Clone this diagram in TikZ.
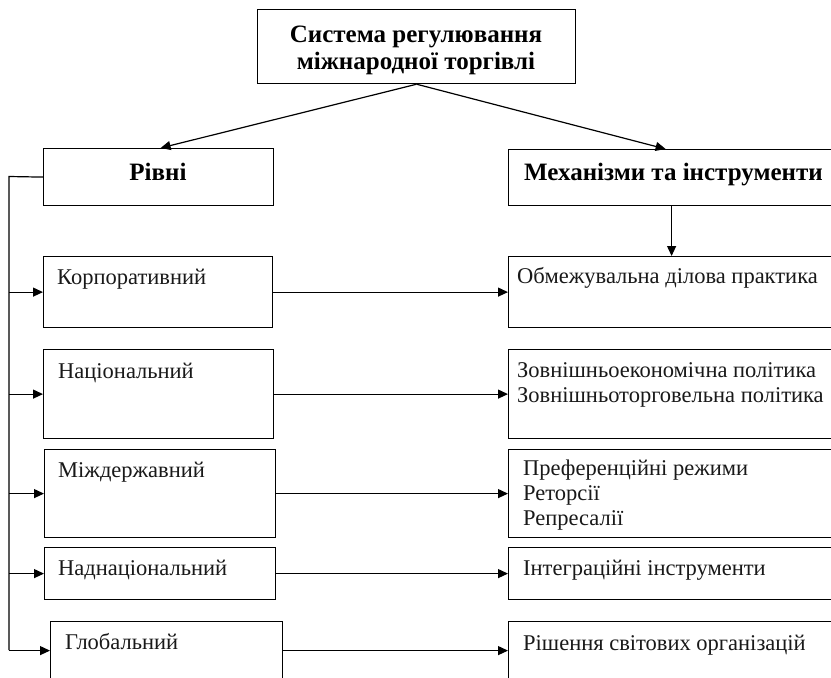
\documentclass[tikz,border=0pt]{standalone}
\usepackage{fontspec}
\setmainfont{Liberation Serif}
\usetikzlibrary{arrows.meta}
\begin{document}
\begin{tikzpicture}[x=1pt,y=-1pt,
  box/.style={draw=black, line width=1.2pt, rectangle, inner sep=0pt, anchor=north west},
  txt/.style={inner sep=0pt, anchor=base west, font=\fontsize{22.5}{25}\selectfont, text=black!90},
  head/.style={inner sep=0pt, font=\fontsize{25}{27}\selectfont\bfseries, text=black},
  link/.style={line width=1.2pt},
  arr/.style={link, -{Triangle[length=10pt,width=9pt]}}]
\useasboundingbox (0,0) rectangle (831,678);
\clip (0,0) rectangle (831,678);
\fill[white] (0,0) rectangle (831,678);

% heading boxes (multi-line texts are placed by the baseline of their last line)
\node[box, minimum width=318pt, minimum height=74pt] (title) at (257,9) {};
\node[head, align=center, anchor=base] (titleT) at (416,69) {Система регулювання\\міжнародної торгівлі};
\node[box, minimum width=230pt, minimum height=57pt] (rivni) at (43,148) {};
\node[head, anchor=base] (rivniT) at (158,180) {Рівні};
\node[box, minimum width=332pt, minimum height=56pt] (mech) at (508,149) {};
\node[head, anchor=base west] (mechT) at (524,180) {Механізми та інструменти};

% levels
\node[box, minimum width=229pt, minimum height=71pt] (korp) at (43,256) {};
\node[txt] (korpT) at (57,284) {Корпоративний};
\node[box, minimum width=230pt, minimum height=89pt] (nats) at (43,349) {};
\node[txt] (natsT) at (58,378) {Національний};
\node[box, minimum width=231pt, minimum height=88pt] (mizh) at (44,449) {};
\node[txt] (mizhT) at (58,477) {Міждержавний};
\node[box, minimum width=231pt, minimum height=52pt] (nadn) at (44,547) {};
\node[txt] (nadnT) at (58,575) {Наднаціональний};
\node[box, minimum width=232pt, minimum height=58pt] (glob) at (50,621) {};
\node[txt] (globT) at (65,649) {Глобальний};

% mechanisms
\node[box, minimum width=332pt, minimum height=71pt] (obm) at (508,256) {};
\node[txt] (obmT) at (517,283) {Обмежувальна ділова практика};
\node[box, minimum width=332pt, minimum height=89pt] (zovn) at (508,349) {};
\node[txt, align=left] (zovnT) at (517,402) {Зовнішньоекономічна політика\\Зовнішньоторговельна політика};
\node[box, minimum width=332pt, minimum height=88pt] (pref) at (508,449) {};
\node[txt, align=left] (prefT) at (523,525) {Преференційні режими\\Реторсії\\Репресалії};
\node[box, minimum width=332pt, minimum height=52pt] (intg) at (508,547) {};
\node[txt] (intgT) at (523,575) {Інтеграційні інструменти};
\node[box, minimum width=332pt, minimum height=58pt] (rish) at (508,621) {};
\node[txt] (rishT) at (523,650) {Рішення світових організацій};

% connectors from the heading
\draw[arr] (title.south) -- ([xshift=2pt]rivni.north);
\draw[arr] (title.south) -- ([xshift=-9pt]mech.north);
\draw[arr] ([xshift=-3pt]mech.south) -- ([xshift=-3pt]obm.north);

% bus on the left feeding every level
\coordinate (busTop) at (9,176.5);
\coordinate (busBot) at (9,650);
\draw[link] (rivni.west) -- (busTop) -- (busBot);
\foreach \n in {korp,nats,mizh,nadn,glob}
  \draw[arr] (busTop |- \n.west) -- (\n.west);

% level to mechanism
\draw[arr] (korp.east) -- (obm.west);
\draw[arr] (nats.east) -- (zovn.west);
\draw[arr] (mizh.east) -- (pref.west);
\draw[arr] (nadn.east) -- (intg.west);
\draw[arr] (glob.east) -- (rish.west);
\end{tikzpicture}
\end{document}
